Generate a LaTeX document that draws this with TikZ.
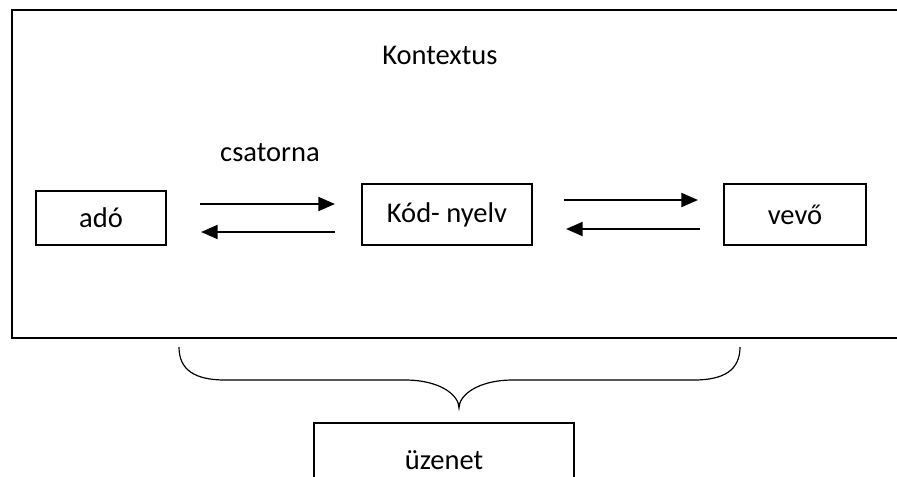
\documentclass[tikz,border=0pt]{standalone}
\usepackage{fontspec}
\setmainfont{Carlito}
\usetikzlibrary{arrows.meta}
\begin{document}
\begin{tikzpicture}[x=0.75pt,y=-0.75pt,
  every node/.style={font=\fontsize{21.4}{26}\selectfont, inner sep=0pt},
  boxnode/.style={draw, line width=1.5pt, rectangle, align=center},
  arr/.style={line width=1.5pt, -{Triangle[length=12.5pt,width=10.5pt]}},
  brace/.style={line width=0.9pt}]
\clip (0,0) rectangle (897,476);
% outer context frame (open at right)
\draw[line width=1.5pt] (905,10) -- (12,10) -- (12,338) -- (905,338);
\node (kontextus) at (440,55) {Kontextus};
\node (csatorna) at (270,153) {csatorna};
\node[boxnode, minimum width=97.5pt, minimum height=40.5pt] (ado) at (101,218) {adó};
\node[boxnode, minimum width=127.5pt, minimum height=45.75pt] (kod) at (447,214.5) {Kód- nyelv};
\node[boxnode, minimum width=106.5pt, minimum height=45.75pt] (vevo) at (795,214.5) {vevő};
\coordinate (y1) at (0,204);
\coordinate (y2) at (0,232);
\coordinate (y3) at (0,200);
\coordinate (y4) at (0,229);
\draw[arr, shorten <=24.75pt, shorten >=19.5pt] (ado.east |- y1) -- (kod.west |- y1);
\draw[arr, shorten <=19.5pt, shorten >=25.5pt] (kod.west |- y2) -- (ado.east |- y2);
\draw[arr, shorten <=23.6pt, shorten >=18.75pt] (kod.east |- y3) -- (vevo.west |- y3);
\draw[arr, shorten <=17.25pt, shorten >=24.75pt] (vevo.west |- y4) -- (kod.east |- y4);
% brace
\coordinate (bl) at (179,347);
\coordinate (br) at (740,347);
\coordinate (tip) at (459,408);
\draw[brace] (bl) .. controls (179,370) and (195,380) .. (225,380) -- (405,380)
  .. controls (440,380) and (459,395) .. (tip)
  .. controls (459,395) and (478,380) .. (513,380) -- (694,380)
  .. controls (724,380) and (740,370) .. (br);
\node[boxnode, minimum width=195pt, minimum height=55.5pt] (uzenet) at (444,460) {üzenet};
\end{tikzpicture}
\end{document}
